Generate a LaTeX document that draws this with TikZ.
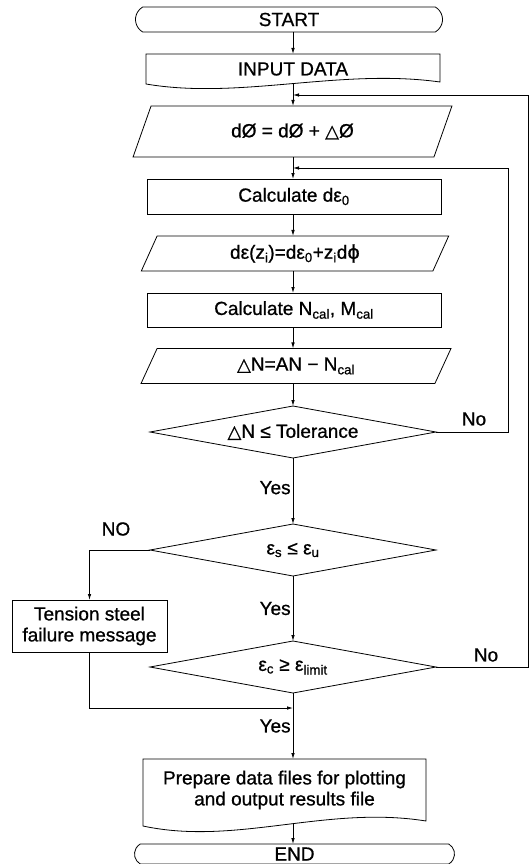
\documentclass[tikz,border=0pt]{standalone}
\usepackage{fontspec}
\setmainfont{Liberation Sans}[FakeBold=0.8]
\newfontfamily\symfont{DejaVu Sans}[FakeBold=0.8]
\usetikzlibrary{shapes.geometric,shapes.misc,arrows.meta}
\newcommand{\tri}{{\symfont\fontsize{18}{18}\selectfont △}}
\newcommand{\vphi}{{\symfont ϕ}}
\tikzset{
  base/.style={line width=0.8pt,font=\fontsize{19}{21}\selectfont,inner sep=0pt,outer sep=0pt},
  term/.style={base,draw,rounded rectangle,rounded rectangle arc length=120},
  procbox/.style={base,draw,rectangle,align=center},
  iobox/.style={base,draw,trapezium,trapezium stretches=true},
  docbox/.style={base,rectangle,align=center},
  decision/.style={base,draw,diamond,aspect=5.5},
  arr/.style={line width=0.8pt,-{Latex[length=6pt,width=3.5pt]}},
  lbl/.style={font=\fontsize{19}{21}\selectfont,inner sep=2pt}
}

\begin{document}
\begin{tikzpicture}[x=1pt,y=-1pt]
\useasboundingbox (0,0) rectangle (529,864);
\coordinate (ax) at (293,0);
\coordinate (outer) at (528,95); \coordinate (inner) at (508,168); \coordinate (join) at (293,708);

\node[term,minimum width=307pt,minimum height=25pt] (start) at (289,19.5) {START};
\node[docbox,minimum width=294pt,minimum height=30pt] (input) at (293,69) {INPUT DATA};
\draw[base] (input.north west) -- (input.north east) -- ([yshift=2pt]input.south east)
  .. controls +(-100,-14) and +(94,16) .. (input.south west) -- cycle;
\node[iobox,minimum width=319pt,minimum height=51pt,trapezium left angle=64,trapezium right angle=116] (p1) at (292.5,131.5) {dØ = dØ + \tri Ø};
\node[procbox,minimum width=294pt,minimum height=35pt] (r1) at (294,196.5) {Calculate dε\textsubscript{0}};
\node[iobox,minimum width=308pt,minimum height=35pt,trapezium left angle=68,trapezium right angle=112] (p2) at (295,253.5) {dε(z\textsubscript{i})=dε\textsubscript{0}+z\textsubscript{i}d\vphi};
\node[procbox,minimum width=294pt,minimum height=34pt] (r2) at (294,310) {Calculate N\textsubscript{cal}, M\textsubscript{cal}};
\node[iobox,minimum width=310pt,minimum height=35pt,trapezium left angle=68,trapezium right angle=112] (p3) at (296,366) {\tri N=AN − N\textsubscript{cal}};
\node[decision,minimum width=286pt,minimum height=52pt] (d1) at (293,432) {\tri N ≤ Tolerance};
\node[decision,minimum width=286pt,minimum height=52pt] (d2) at (293,550) {ε\textsubscript{s} ≤ ε\textsubscript{u}};
\node[procbox,minimum width=155pt,minimum height=52pt] (tens) at (89.5,626) {Tension steel\\failure message};
\node[decision,minimum width=286pt,minimum height=52pt] (d3) at (293,667) {ε\textsubscript{c} ≥ ε\textsubscript{limit}};
\node[docbox,minimum width=283pt,minimum height=62pt] (prep) at (284.5,790) {Prepare data files for plotting\\and output results file};
\draw[base] (prep.north west) -- (prep.north east) -- (prep.south east)
  .. controls +(-100,-16) and +(93,20) .. ([yshift=-5pt]prep.south west) -- cycle;
\node[term,minimum width=320pt,minimum height=20pt] (end) at (294.5,854) {END};

\draw[arr] (start.south -| ax) -- (input.north -| ax);
\draw[arr] (input.south -| ax) -- (p1.north -| ax);
\draw[arr] (p1.south -| ax) -- (r1.north -| ax);
\draw[arr] (r1.south -| ax) -- (p2.north -| ax);
\draw[arr] (p2.south -| ax) -- (r2.north -| ax);
\draw[arr] (r2.south -| ax) -- (p3.north -| ax);
\draw[arr] (p3.south -| ax) -- (d1.north);
\draw[arr] (d1.south) -- (d2.north) node[lbl,pos=0.45,anchor=east] (yes1) {Yes};
\draw[arr] (d2.south) -- (d3.north) node[lbl,pos=0.5,anchor=east] (yes2) {Yes};
\draw[arr] (d3.south) -- (prep.north -| ax) node[lbl,pos=0.5,anchor=east] (yes3) {Yes};
\draw[arr] ([yshift=-3pt]prep.south -| ax) -- (end.north -| ax);
\draw[arr] (d1.east) -| (inner) -- (inner -| ax);
\draw[arr] (d3.east) -| (outer) -- (outer -| ax);
\draw[arr] (d2.west) -| (tens.north);
\draw[arr] (tens.south) |- (join);
\node[lbl] (no1) at (474,419) {No};
\node[lbl] (no2) at (116,529) {NO};
\node[lbl] (no3) at (486,655) {No};
\end{tikzpicture}
\end{document}
